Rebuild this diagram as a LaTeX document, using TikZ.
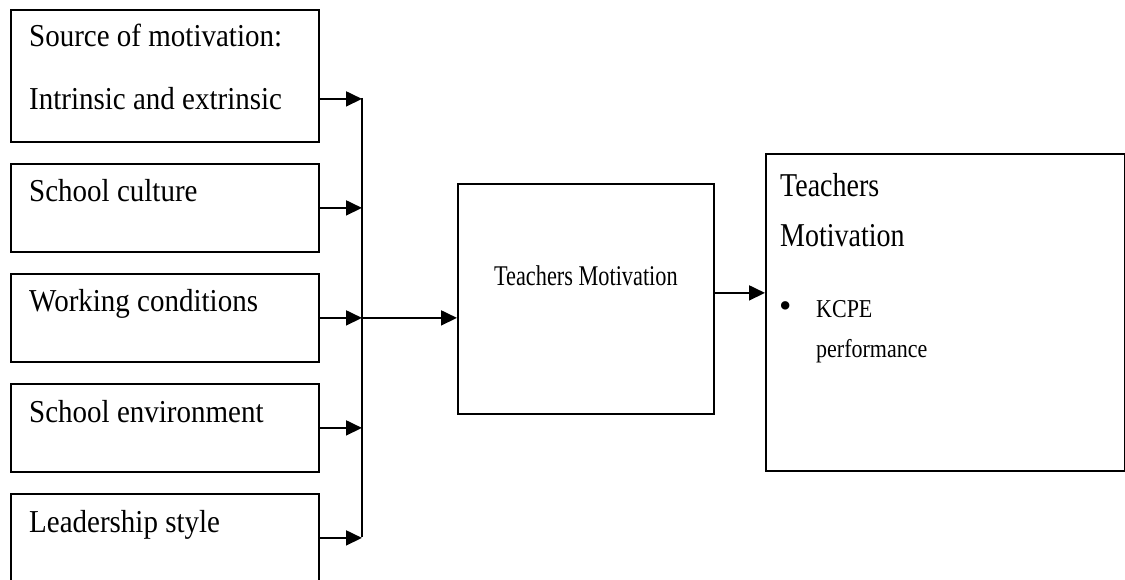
\documentclass[tikz,border=0pt]{standalone}
\usepackage{fontspec}
\usepackage{graphicx}
\setmainfont{Liberation Serif}
\usetikzlibrary{arrows.meta}

% text in the reference is set a little taller than wide
\newcommand{\tall}[2]{\scalebox{1}[#1]{#2}}

\tikzset{
  x=1pt, y=-1pt,
  box/.style={rectangle, draw, line width=1.8pt, anchor=north west, inner sep=0pt},
  srcbox/.style={box, minimum width=308pt, minimum height=88pt},
  lbl/.style={anchor=base west, inner sep=0pt, font=\fontsize{29}{34}\selectfont},
  reslbl/.style={lbl, font=\fontsize{22}{26}\selectfont},
  flow/.style={line width=1.8pt, -{Triangle[length=16pt,width=15pt]}}
}

\begin{document}
\begin{tikzpicture}
    \useasboundingbox (0,0) rectangle (1125,580);
    % factor boxes
    \node[srcbox, minimum height=132pt] (src) at (10,9) {};
    \node[srcbox] (cult) at (10,163) {};
    \node[srcbox] (work) at (10,273) {};
    \node[srcbox] (env) at (10,383) {};
    \node[srcbox] (lead) at (10,493) {};
    \node[lbl] (srcA) at ([xshift=19pt,yshift=-38pt]src.north west) {\tall{1.1}{Source of motivation:}};
    \node[lbl] (srcB) at ([xshift=19pt,yshift=-101pt]src.north west) {\tall{1.1}{Intrinsic and extrinsic}};
    \node[lbl] (cultT) at ([xshift=19pt,yshift=-39pt]cult.north west) {\tall{1.1}{School culture}};
    \node[lbl] (workT) at ([xshift=19pt,yshift=-39pt]work.north west) {\tall{1.1}{Working conditions}};
    \node[lbl] (envT) at ([xshift=19pt,yshift=-39pt]env.north west) {\tall{1.1}{School environment}};
    \node[lbl] (leadT) at ([xshift=19pt,yshift=-39pt]lead.north west) {\tall{1.1}{Leadership style}};
    % middle and result boxes
    \node[box, minimum width=256pt, minimum height=230pt] (mid) at (457,183) {};
    \node[anchor=base, inner sep=0pt, font=\fontsize{22.3}{26}\selectfont] (midT) at ([yshift=-103pt]mid.north) {\tall{1.28}{Teachers Motivation}};
    \node[box, minimum width=359pt, minimum height=317pt] (res) at (765,153) {};
    \node[lbl, font=\fontsize{28}{33}\selectfont] (resA) at ([xshift=15pt,yshift=-44pt]res.north west) {\tall{1.19}{Teachers}};
    \node[lbl, font=\fontsize{28}{33}\selectfont] (resB) at ([xshift=15pt,yshift=-94pt]res.north west) {\tall{1.19}{Motivation}};
    \node[reslbl] (resC) at ([xshift=14pt,yshift=-164pt]res.north west) {\scalebox{1.6}{\textbullet}};
    \node[reslbl] (resD) at ([xshift=51pt,yshift=-164pt]res.north west) {\tall{1.17}{KCPE}};
    \node[reslbl] (resE) at ([xshift=51pt,yshift=-204pt]res.north west) {\tall{1.17}{performance}};
    % connectors
    \coordinate (bustop) at (362,98);
    \coordinate (busbot) at (362,537);
    \draw[line width=1.8pt] (bustop) -- (busbot);
    \draw[flow] ([yshift=-23pt]src.east) -- ([yshift=-23pt]src.east -| bustop);
    \draw[flow] (cult.east) -- (cult.east -| bustop);
    \draw[flow] (work.east) -- (work.east -| bustop);
    \draw[flow] (env.east) -- (env.east -| bustop);
    \draw[flow] (lead.east) -- (lead.east -| bustop);
    \draw[flow] (work.east -| bustop) -- (work.east -| mid.west);
    \draw[flow] ([yshift=6pt]mid.east) -- ([yshift=6pt]mid.east -| res.west);
\end{tikzpicture}
\end{document}
